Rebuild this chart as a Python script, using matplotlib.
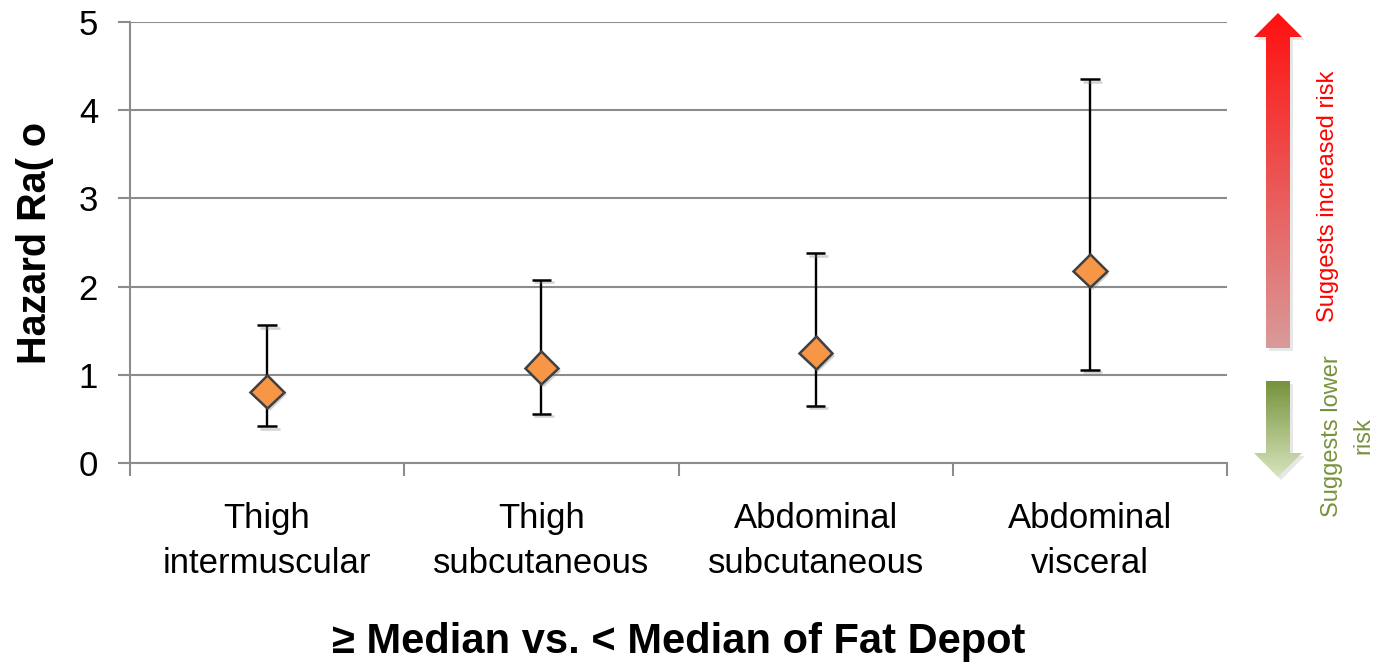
import numpy as np
import matplotlib
matplotlib.use("Agg")
import matplotlib.pyplot as plt
from matplotlib.patches import Polygon
from matplotlib.colors import LinearSegmentedColormap
import matplotlib.patheffects as pe

depots = ["Thigh\nintermuscular", "Thigh\nsubcutaneous", "Abdominal\nsubcutaneous", "Abdominal\nvisceral"]
hazard = [0.81, 1.08, 1.25, 2.18]
ci_low = [0.42, 0.56, 0.65, 1.06]
ci_high = [1.56, 2.08, 2.38, 4.35]
yticks = [0, 1, 2, 3, 4, 5]

plt.rcParams['font.family'] = ['Liberation Sans', 'DejaVu Sans']

W, H = 1383, 662
fig = plt.figure(figsize=(W / 100, H / 100), dpi=100)
ax = fig.add_axes([130 / W, 1 - 463 / H, (1227 - 130) / W, (463 - 22) / H])

x = np.arange(len(depots))
hz = np.array(hazard)
err = [hz - np.array(ci_low), np.array(ci_high) - hz]

grid_c = '#8c8c8c'
ax.set_ylim(0, 5)
ax.set_xlim(-0.5, len(depots) - 0.5)
ax.set_yticks(yticks)
ax.yaxis.grid(True, color=grid_c, linewidth=1.5)
ax.set_axisbelow(True)
for s in ['top', 'right']:
    ax.spines[s].set_visible(False)
for s in ['left', 'bottom']:
    ax.spines[s].set_color(grid_c)
    ax.spines[s].set_linewidth(1.5)

# ticks at category boundaries, labels at centers
ax.set_xticks(np.arange(len(depots) + 1) - 0.5)
ax.set_xticklabels([])
ax.set_xticks(x, minor=True)
ax.set_xticklabels(depots, minor=True, fontsize=25, linespacing=1.48)
ax.tick_params(axis='x', which='major', length=9, width=1.5, color=grid_c)
ax.tick_params(axis='x', which='minor', length=0, pad=28)
ax.tick_params(axis='y', length=9, width=1.5, color=grid_c, labelsize=25, pad=14)

eb = ax.errorbar(x, hz, yerr=err, fmt='D', color='black', ecolor='black',
                 elinewidth=1.7, capsize=7, capthick=1.7,
                 markersize=17, markerfacecolor='#f79646', markeredgecolor='#404040',
                 markeredgewidth=1.8, zorder=3)
shadow = [pe.SimpleLineShadow(offset=(2, -2), shadow_color='gray', alpha=0.35), pe.Normal()]
eb.lines[0].set_path_effects([pe.withSimplePatchShadow(offset=(2, -2), shadow_rgbFace='gray', alpha=0.35)])
for c in eb.lines[1]:
    c.set_path_effects(shadow)

ax.set_ylabel('Hazard Ra( o', fontsize=28.5, fontweight='bold', labelpad=18)
ax.set_xlabel('≥ Median vs. < Median of Fat Depot', fontsize=30, fontweight='bold', labelpad=30)

# gradient arrows on the right, in pixel coordinates
ov = fig.add_axes([0, 0, 1, 1])
ov.set_xlim(0, W)
ov.set_ylim(H, 0)
ov.axis('off')

def grad_arrow(pts, top, bottom, y0, y1):
    poly = Polygon(pts, closed=True, facecolor='none', edgecolor='none')
    ov.add_patch(poly)
    shadow_poly = Polygon(np.array(pts) + [3, 3], closed=True, facecolor='#bbbbbb', edgecolor='none', alpha=0.35)
    ov.add_patch(shadow_poly)
    cmap = LinearSegmentedColormap.from_list('g', [top, bottom])
    grad = np.linspace(0, 1, 256).reshape(-1, 1)
    im = ov.imshow(grad, cmap=cmap, extent=(1254, 1302, y1, y0), aspect='auto', zorder=2)
    im.set_clip_path(poly)

grad_arrow([(1266, 348), (1266, 37), (1254, 37), (1278, 13), (1302, 37), (1290, 37), (1290, 348)],
           '#ff1010', '#d99a9a', 13, 348)
grad_arrow([(1266, 381), (1290, 381), (1290, 453), (1302, 453), (1278, 477), (1254, 453), (1266, 453)],
           '#76923c', '#d7e4bd', 381, 477)
ov.set_xlim(0, W)
ov.set_ylim(H, 0)

ov.text(1328, 196, 'Suggests increased risk', rotation=90, color='#ff0000', fontsize=17,
        ha='center', va='center')
ov.text(1348, 436, 'Suggests lower\nrisk', rotation=90, color='#77933c', fontsize=17,
        ha='center', va='center', multialignment='center', linespacing=1.55)

fig.savefig('out.png', dpi=100)
